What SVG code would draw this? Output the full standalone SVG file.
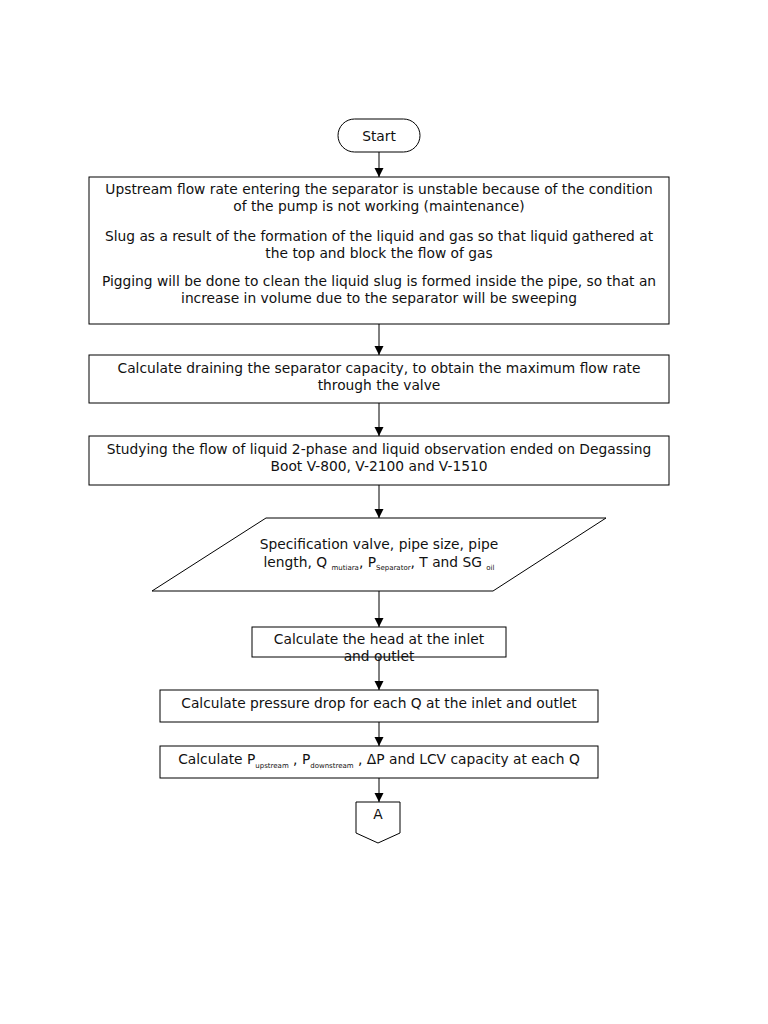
<svg xmlns="http://www.w3.org/2000/svg" width="768" height="1024" viewBox="0 0 768 1024">
<defs>
<marker id="arr" markerWidth="10" markerHeight="10" refX="9" refY="4.5" orient="auto" markerUnits="userSpaceOnUse">
<path d="M0,0 L9,4.5 L0,9 Z" fill="#000"/>
</marker>
<style>
.s{fill:#fff;stroke:#000;stroke-width:1}
.t{font-family:"DejaVu Sans",Verdana,sans-serif;font-size:13.8px;fill:#111;text-anchor:middle}
.sub{font-size:7px}
.c{stroke:#000;stroke-width:1;fill:none;marker-end:url(#arr)}
</style>
</defs>
<rect width="768" height="1024" fill="#fff"/>
<g id="connectors">
<line class="c" x1="379" y1="152" x2="379" y2="177"/>
<line class="c" x1="379" y1="324" x2="379" y2="355"/>
<line class="c" x1="379" y1="403" x2="379" y2="436"/>
<line class="c" x1="379" y1="485" x2="379" y2="518"/>
<line class="c" x1="379" y1="591" x2="379" y2="627"/>
<line class="c" x1="379" y1="657" x2="379" y2="690"/>
<line class="c" x1="379" y1="722" x2="379" y2="746"/>
<line class="c" x1="379" y1="778" x2="379" y2="802"/>
</g>
<g id="start">
<rect class="s" x="338" y="119" width="82" height="33" rx="16.5"/>
<text class="t" x="379" y="141">Start</text>
</g>
<g id="box1">
<rect class="s" x="89" y="177" width="580" height="147"/>
<text class="t" x="379" y="194">Upstream flow rate entering the separator is unstable because of the condition</text>
<text class="t" x="379" y="211">of the pump is not working (maintenance)</text>
<text class="t" x="379" y="241">Slug as a result of the formation of the liquid and gas so that liquid gathered at</text>
<text class="t" x="379" y="258">the top and block the flow of gas</text>
<text class="t" x="379" y="286">Pigging will be done to clean the liquid slug is formed inside the pipe, so that an</text>
<text class="t" x="379" y="303">increase in volume due to the separator will be sweeping</text>
</g>
<g id="box2">
<rect class="s" x="89" y="355" width="580" height="48"/>
<text class="t" x="379" y="373">Calculate draining the separator capacity, to obtain the maximum flow rate</text>
<text class="t" x="379" y="390">through the valve</text>
</g>
<g id="box3">
<rect class="s" x="89" y="436" width="580" height="49"/>
<text class="t" x="379" y="454">Studying the flow of liquid 2-phase and liquid observation ended on Degassing</text>
<text class="t" x="379" y="471">Boot V-800, V-2100 and V-1510</text>
</g>
<g id="input">
<polygon class="s" points="266,518 606,518 493,591 152,591"/>
<text class="t" x="379" y="549">Specification valve, pipe size, pipe</text>
<text class="t" x="379" y="567">length, Q <tspan class="sub" dy="3">mutiara</tspan><tspan dy="-3">, P</tspan><tspan class="sub" dy="3">Separator</tspan><tspan dy="-3">, T and SG </tspan><tspan class="sub" dy="3">oil</tspan></text>
</g>
<g id="box4">
<rect class="s" x="252" y="627" width="254" height="30"/>
<text class="t" x="379" y="644">Calculate the head at the inlet</text>
<text class="t" x="379" y="661">and outlet</text>
</g>
<g id="box5">
<rect class="s" x="160" y="690" width="438" height="32"/>
<text class="t" x="379" y="708">Calculate pressure drop for each Q at the inlet and outlet</text>
</g>
<g id="box6">
<rect class="s" x="160" y="746" width="438" height="32"/>
<text class="t" x="379" y="764">Calculate P<tspan class="sub" dy="4">upstream</tspan><tspan dy="-4"> , P</tspan><tspan class="sub" dy="4">downstream</tspan><tspan dy="-4"> , ΔP and LCV capacity at each Q</tspan></text>
</g>
<g id="connectorA">
<polygon class="s" points="356,802 400,802 400,833 378,843 356,833"/>
<text class="t" x="378" y="819">A</text>
</g>
</svg>
